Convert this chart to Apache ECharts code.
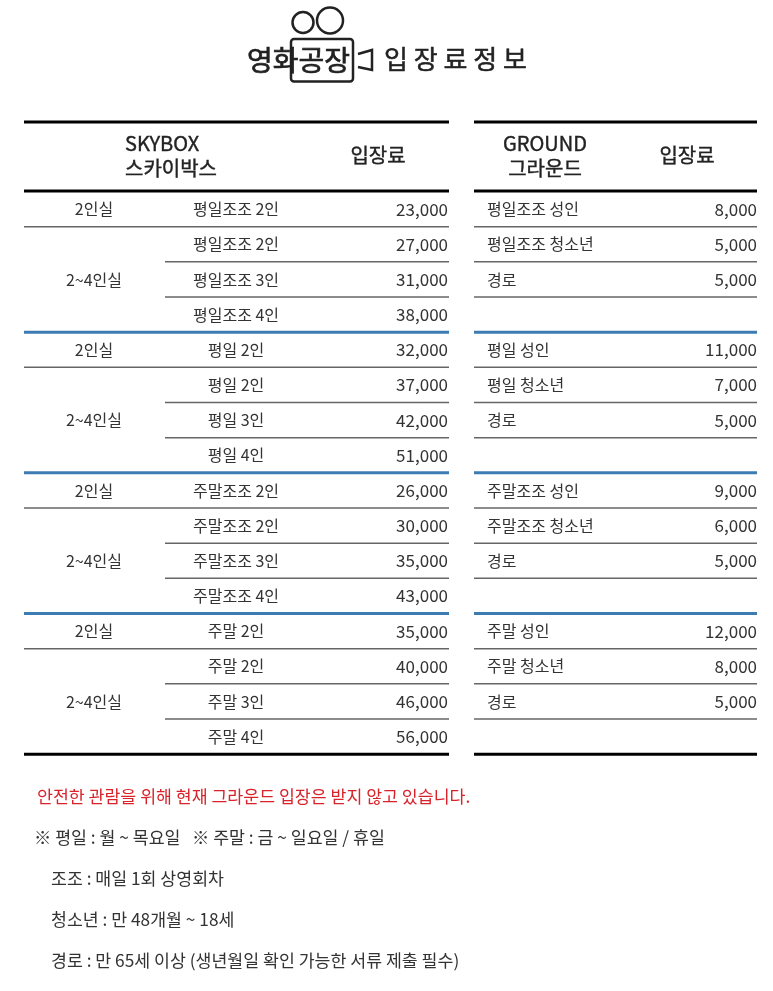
<!DOCTYPE html>
<html>
<head>
<meta charset="utf-8">
<style>html,body{margin:0;padding:0;background:#fff}#main{width:773px;height:991px}</style>
<script src="https://cdn.jsdelivr.net/npm/echarts@6/dist/echarts.min.js"></script>
</head>
<body>
<div id="main"></div>
<script>
var roomLabels = ['2인실','','2~4인실','','2인실','','2~4인실','','2인실','','2~4인실','','2인실','','2~4인실',''];
var skyboxTickets = ['평일조조 2인','평일조조 2인','평일조조 3인','평일조조 4인','평일 2인','평일 2인','평일 3인','평일 4인',
  '주말조조 2인','주말조조 2인','주말조조 3인','주말조조 4인','주말 2인','주말 2인','주말 3인','주말 4인'];
var skyboxPrices = [23000,27000,31000,38000,32000,37000,42000,51000,26000,30000,35000,43000,35000,40000,46000,56000];
var groundTickets = ['평일조조 성인','평일조조 청소년','경로','','평일 성인','평일 청소년','경로','',
  '주말조조 성인','주말조조 청소년','경로','','주말 성인','주말 청소년','경로',''];
var groundPrices = [8000,5000,5000,null,11000,7000,5000,null,9000,6000,5000,null,12000,8000,5000,null];
var skyboxRules = ['thin','part','part','blue','thin','part','part','blue','thin','part','part','blue','thin','part','part','black'];
var groundRules = ['thin','thin','thin','blue','thin','thin','thin','blue','thin','thin','thin','blue','thin','thin','thin','black'];
var notes = ['※ 평일 : 월 ~ 목요일   ※ 주말 : 금 ~ 일요일 / 휴일','조조 : 매일 1회 상영회차','청소년 : 만 48개월 ~ 18세','경로 : 만 65세 이상 (생년월일 확인 가능한 서류 제출 필수)'];
var redNote = '안전한 관람을 위해 현재 그라운드 입장은 받지 않고 있습니다.';

var font = '"Noto Sans CJK KR"';
var ink = '#333';
var ruleStyle = {
  thin: { stroke: '#666', lineWidth: 1.5 },
  blue: { stroke: '#3d7cb3', lineWidth: 3 },
  black: { stroke: '#000', lineWidth: 3 }
};

function money(v) {
  return v == null ? '' : v.toLocaleString('en-US');
}

// text column, one label per table row
function textColumn(x, align, texts, size) {
  return {
    type: 'custom',
    silent: true,
    data: texts.map(function (t, i) { return [x, i]; }),
    renderItem: function (params, api) {
      var t = texts[params.dataIndex];
      if (!t) return null;
      var p = api.coord([api.value(0), params.dataIndex]);
      return {
        type: 'text',
        style: { x: p[0], y: p[1], text: t, align: align, verticalAlign: 'middle', fill: ink, font: size + 'px ' + font }
      };
    }
  };
}

// rule under each row
function ruleColumn(x0, xPart, x1, kinds) {
  return {
    type: 'custom',
    silent: true,
    data: kinds.map(function (k, i) { return [x0, i]; }),
    renderItem: function (params, api) {
      var k = kinds[params.dataIndex];
      var p = api.coord([k === 'part' ? xPart : x0, params.dataIndex]);
      var end = api.coord([x1, params.dataIndex]);
      var y = p[1] + api.size([0, 1])[1] / 2;
      return {
        type: 'line',
        shape: { x1: p[0], y1: y, x2: end[0], y2: y },
        style: ruleStyle[k === 'part' ? 'thin' : k]
      };
    }
  };
}

function label(x, y, text, size, align, fill, heavy) {
  var style = { text: text, fill: fill || ink, align: align || 'left', verticalAlign: 'middle', font: size + 'px ' + font };
  if (heavy) {
    // medium weight, the font only ships regular and bold here
    style.stroke = style.fill;
    style.lineWidth = heavy;
  }
  return { type: 'text', x: x, y: y, silent: true, style: style };
}
function rule(x0, x1, y) {
  return { type: 'line', silent: true, shape: { x1: x0, y1: y, x2: x1, y2: y }, style: ruleStyle.black };
}

var logoStroke = { fill: 'none', stroke: '#222', lineWidth: 2.5 };
var graphics = [
  { type: 'circle', shape: { cx: 303, cy: 22.5, r: 10.5 }, style: logoStroke },
  { type: 'circle', shape: { cx: 330, cy: 20.5, r: 13 }, style: logoStroke },
  { type: 'rect', shape: { x: 291, y: 39, width: 62, height: 42.5, r: 3 }, style: logoStroke },
  { type: 'polyline', shape: { points: [[358, 54], [372, 50], [372, 70], [358, 67]] }, style: logoStroke },
  label(247, 60, '영화공장', 28, 'left', '#222', 0.7),
  label(384, 59, '입 장 료 정 보', 26, 'left', '#222', 0.5),
  rule(24, 449, 122), rule(24, 449, 191), rule(474, 757, 122), rule(474, 757, 191),
  label(125, 143, 'SKYBOX', 20, 'left', '#222', 0.4),
  label(125, 168, '스카이박스', 20, 'left', '#222', 0.4),
  label(378, 155, '입장료', 20, 'center', '#222', 0.4),
  label(545, 143, 'GROUND', 20, 'center', '#222', 0.4),
  label(545, 168, '그라운드', 20, 'center', '#222', 0.4),
  label(687, 155, '입장료', 20, 'center', '#222', 0.4),
  label(37, 796, redNote, 17.3, 'left', '#d8232a')
];
[[34, 837], [51, 878], [51, 919], [51, 960]].forEach(function (p, i) {
  graphics.push(label(p[0], p[1], notes[i], 17.3));
});

var myChart = echarts.init(document.getElementById('main'), null, { renderer: 'canvas' });

var option = {
  backgroundColor: '#fff',
  animation: false,
  tooltip: { show: false },
  grid: { left: 0, right: 0, top: 191.5, height: 562.7 },
  xAxis: { type: 'value', min: 0, max: 773, show: false },
  yAxis: { type: 'category', inverse: true, show: false, data: skyboxTickets.map(function (t, i) { return 'r' + i; }) },
  graphic: graphics,
  series: [
    ruleColumn(24, 165, 449, skyboxRules),
    ruleColumn(474, 474, 757, groundRules),
    textColumn(94, 'center', roomLabels, 16),
    textColumn(236, 'center', skyboxTickets, 16),
    textColumn(448, 'right', skyboxPrices.map(money), 17),
    textColumn(487, 'left', groundTickets, 16),
    textColumn(757, 'right', groundPrices.map(money), 17)
  ]
};

myChart.setOption(option);
window.addEventListener('resize', myChart.resize);
</script>
</body>
</html>
